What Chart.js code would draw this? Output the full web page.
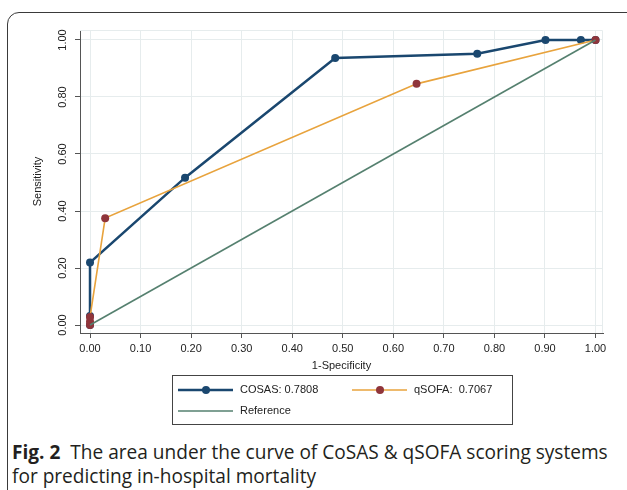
<!DOCTYPE html>
<html>
<head>
<meta charset="utf-8">
<script src="https://cdn.jsdelivr.net/npm/chart.js@4.4.1/dist/chart.umd.min.js"></script>
<style>
  body { margin: 0; background: #fff; width: 627px; height: 490px; overflow: hidden; position: relative; }
  #card { position: absolute; left: 7px; top: 12px; width: 660px; height: 520px; border: 1.5px solid #3a3a3a; border-radius: 12px; box-sizing: border-box; }
  #roc { position: absolute; left: 0; top: 0; }
  #cap { position: absolute; left: 12px; top: 440px; font-family: "Open Sans", "Noto Sans", sans-serif; font-size: 17px; line-height: 24px; color: #231f20; white-space: nowrap; }
</style>
</head>
<body>
<div id="card"></div>
<canvas id="roc" width="627" height="430"></canvas>
<div id="cap"><span id="capLine1"><b>Fig. 2</b>&nbsp; The area under the curve of CoSAS &amp; qSOFA scoring systems</span><br>for predicting in-hospital mortality</div>
<script>
// ROC points (1-specificity, sensitivity)
const cosasFpr = [0, 0, 0, 0.188, 0.485, 0.766, 0.901, 0.971, 1];
const cosasTpr = [0, 0.032, 0.219, 0.517, 0.937, 0.952, 1, 1, 1];
const qsofaFpr = [0, 0, 0, 0.030, 0.646, 1];
const qsofaTpr = [0, 0.012, 0.028, 0.375, 0.846, 1];
const refFpr = [0, 1];
const refTpr = [0, 1];

const seriesLabels = ['COSAS: 0.7808', 'qSOFA:  0.7067', 'Reference'];
const xTicks = [0, 0.1, 0.2, 0.3, 0.4, 0.5, 0.6, 0.7, 0.8, 0.9, 1];
const yTicks = [0, 0.2, 0.4, 0.6, 0.8, 1];

const navy = '#1a476f';
const gold = '#e8a33d';
const maroon = '#90353b';
const teal = '#55806f';
const axisGray = '#555';
const gridGray = '#e6eced';
const font = '"Liberation Sans", Arial, sans-serif';

function pts(xs, ys) {
    return xs.map((x, i) => ({ x: x, y: ys[i] }));
}

// light outline of plot region, axis titles and the boxed legend
const extras = {
    id: 'extras',
    beforeDatasetsDraw(chart) {
        const { ctx, chartArea: a } = chart;
        ctx.save();
        ctx.strokeStyle = gridGray;
        ctx.lineWidth = 1;
        ctx.beginPath();
        ctx.moveTo(a.left, a.top + 0.5);
        ctx.lineTo(a.right - 0.5, a.top + 0.5);
        ctx.lineTo(a.right - 0.5, a.bottom);
        ctx.stroke();
        ctx.restore();
    },
    afterDraw(chart) {
        const { ctx, chartArea: a } = chart;
        const ds = chart.data.datasets;
        ctx.save();
        ctx.fillStyle = '#222';
        ctx.font = '11px ' + font;
        ctx.textAlign = 'center';
        ctx.textBaseline = 'middle';
        ctx.fillText('1-Specificity', (a.left + a.right) / 2, 366);
        ctx.save();
        ctx.translate(38, (a.top + a.bottom) / 2);
        ctx.rotate(-Math.PI / 2);
        ctx.fillText('Sensitivity', 0, 0);
        ctx.restore();

        // legend box
        ctx.strokeStyle = '#444';
        ctx.lineWidth = 1;
        ctx.strokeRect(172.5, 375.5, 340, 49);
        const items = [
            { d: ds[0], x: 178, y: 390 },
            { d: ds[1], x: 352, y: 390 },
            { d: ds[2], x: 178, y: 411 }
        ];
        ctx.textAlign = 'left';
        items.forEach(it => {
            ctx.strokeStyle = it.d.borderColor;
            ctx.lineWidth = it.d.borderWidth;
            ctx.beginPath();
            ctx.moveTo(it.x, it.y);
            ctx.lineTo(it.x + 55, it.y);
            ctx.stroke();
            if (it.d.pointRadius > 0) {
                ctx.fillStyle = it.d.pointBackgroundColor;
                ctx.beginPath();
                ctx.arc(it.x + 28, it.y, 4, 0, Math.PI * 2);
                ctx.fill();
            }
            ctx.fillStyle = '#222';
            ctx.fillText(it.d.label, it.x + 62, it.y);
        });
        ctx.restore();
    }
};

const ctx = document.getElementById('roc').getContext('2d');
const rocChart = new Chart(ctx, {
    type: 'scatter',
    data: {
        datasets: [{
            label: seriesLabels[0],
            data: pts(cosasFpr, cosasTpr),
            showLine: true,
            borderColor: navy,
            borderWidth: 2.5,
            pointRadius: 4,
            pointBackgroundColor: navy,
            pointBorderWidth: 0,
            order: 3
        }, {
            label: seriesLabels[1],
            data: pts(qsofaFpr, qsofaTpr),
            showLine: true,
            borderColor: gold,
            borderWidth: 1.6,
            pointRadius: 4,
            pointBackgroundColor: maroon,
            pointBorderWidth: 0,
            order: 2
        }, {
            label: seriesLabels[2],
            data: pts(refFpr, refTpr),
            showLine: true,
            borderColor: teal,
            borderWidth: 1.6,
            pointRadius: 0,
            order: 1
        }]
    },
    options: {
        responsive: false,
        animation: false,
        layout: { padding: { top: 30, right: 24, left: 0, bottom: 0 } },
        plugins: { legend: { display: false }, tooltip: { enabled: false } },
        scales: {
            x: {
                type: 'linear',
                min: -0.0198,
                max: 1.0148,
                afterFit: s => { s.height = 97; },
                afterBuildTicks: s => { s.ticks = xTicks.map(v => ({ value: v })); },
                border: { color: axisGray, width: 1 },
                grid: { color: gridGray, tickColor: axisGray, tickLength: 5 },
                ticks: {
                    padding: 4,
                    color: '#222',
                    font: { family: font, size: 11 },
                    maxRotation: 0,
                    callback: v => v.toFixed(2)
                }
            },
            y: {
                type: 'linear',
                min: -0.028,
                max: 1.035,
                afterFit: s => { s.width = 80; },
                afterBuildTicks: s => { s.ticks = yTicks.map(v => ({ value: v })); },
                border: { color: axisGray, width: 1 },
                grid: { color: gridGray, tickColor: axisGray, tickLength: 5 },
                ticks: {
                    padding: 1,
                    minRotation: 90,
                    maxRotation: 90,
                    crossAlign: 'center',
                    color: '#222',
                    font: { family: font, size: 11 },
                    callback: v => v.toFixed(2)
                }
            }
        }
    },
    plugins: [extras]
});

// fit caption line to the width seen in the figure
const line1 = document.getElementById('capLine1');
const cap = document.getElementById('cap');
const w = line1.getBoundingClientRect().width;
cap.style.fontSize = (17 * 596 / w).toFixed(2) + 'px';
</script>
</body>
</html>
